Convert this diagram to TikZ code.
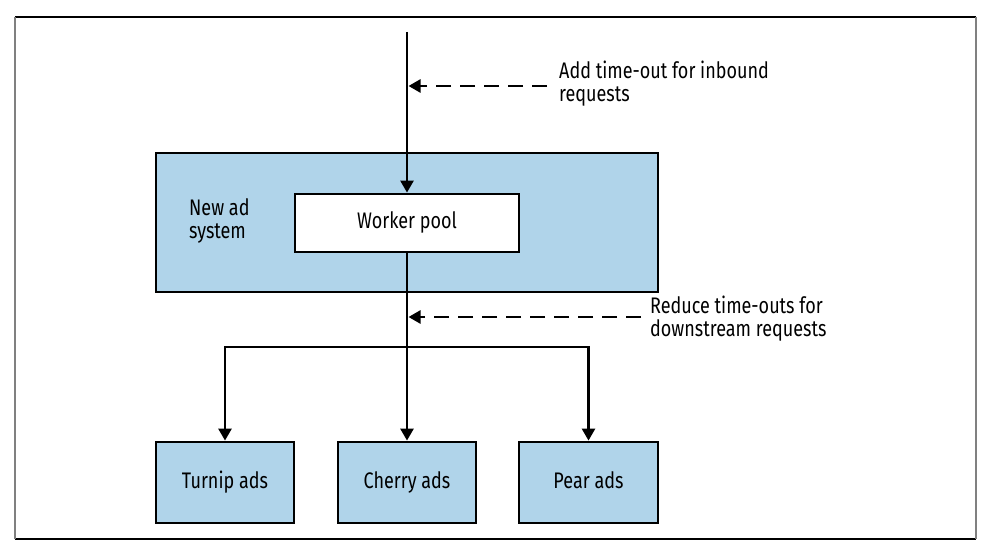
\documentclass[tikz,border=0pt]{standalone}
\usepackage{fontspec}
\setmainfont{Fira Sans}[FakeStretch=0.80]
\usetikzlibrary{arrows.meta}
\definecolor{boxblue}{RGB}{176,212,234}
\begin{document}
\begin{tikzpicture}[x=1pt,y=-1pt,
  box/.style={draw=black, line width=2.8pt, fill=boxblue, rectangle, inner sep=0pt, text height=15pt, text depth=4pt, font=\fontsize{22.5}{23}\selectfont},
  wbox/.style={box, fill=white},
  lbl/.style={inner sep=0pt, align=left, anchor=west, font=\fontsize{22.5}{23}\selectfont},
  arr/.style={line width=2.6pt, -{Triangle[length=12pt,width=13pt]}},
  dasharr/.style={line width=2.6pt, dash pattern=on 15pt off 9pt, -{Triangle[length=12pt,width=13pt]}}
]
\useasboundingbox (0,0) rectangle (990,553);
% frame
\draw[black, line width=1.4pt] (15,17) -- (976,17);
\draw[black, line width=1.4pt] (15,539) -- (976,539);
\draw[gray, line width=1.1pt] (15,17) -- (15,539);
\draw[gray, line width=1.1pt] (976,17) -- (976,539);

\node[box, minimum width=502pt, minimum height=139pt] (sys) at (407,222.5) {};
\node[lbl] (syslbl) at (189,221) {New ad\\system};
\node[wbox, minimum width=224pt, minimum height=58pt] (worker) at (407,223) {Worker pool};

\node[box, minimum width=138pt, minimum height=81pt] (turnip) at (225,482.5) {Turnip ads};
\node[box, minimum width=138pt, minimum height=81pt] (cherry) at (407,482.5) {Cherry ads};
\node[box, minimum width=139pt, minimum height=81pt] (pear) at (588.5,482.5) {Pear ads};

\coordinate (top) at (407,32);
\coordinate (hit1) at (408.5,86);
\coordinate (src1) at (547,86);
\coordinate (hit2) at (408.5,317);
\coordinate (src2) at (641,317);
\coordinate (branch) at (407,347);

\draw[arr] (top) -- (worker.north);
\draw[arr] (worker.south) -- (cherry.north);
\draw[arr] (branch) -| (turnip.north);
\draw[arr] (branch) -| (pear.north);

\draw[dasharr] (src1) -- (hit1);
\draw[dasharr] (src2) -- (hit2);

\node[lbl] (note1) at (559,84) {Add time-out for inbound\\requests};
\node[lbl] (note2) at (650,319) {Reduce time-outs for\\downstream requests};
\end{tikzpicture}
\end{document}
